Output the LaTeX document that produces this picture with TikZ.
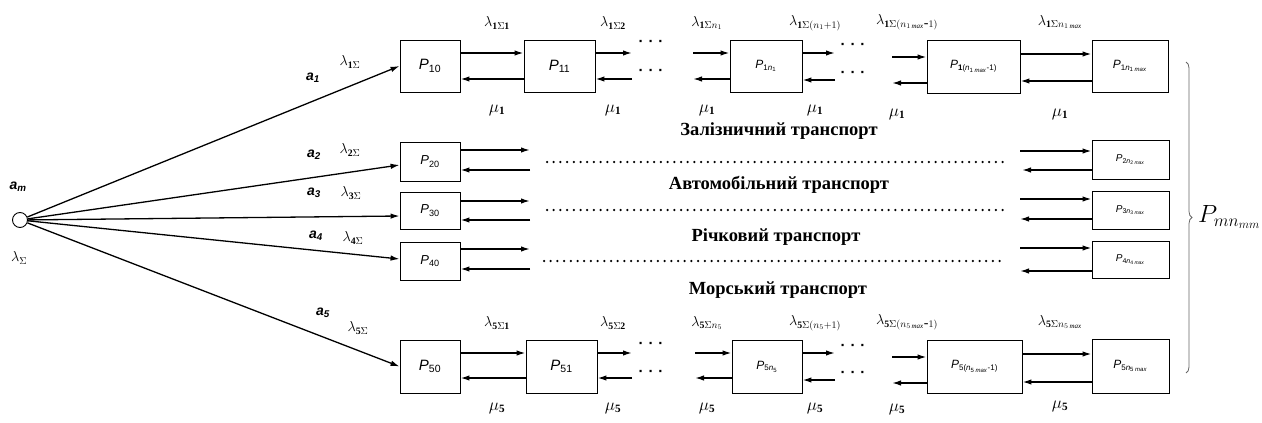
\documentclass[tikz,border=0pt]{standalone}
\usepackage{fontspec}
\setmainfont{Liberation Serif}
\setsansfont{Liberation Sans}
\usetikzlibrary{arrows.meta,decorations.pathreplacing}
\newcommand\PL[1]{\textit{P}\textsubscript{#1}}
\newcommand\tdots{·\hspace{5pt}·\hspace{5pt}·}
\begin{document}
\begin{tikzpicture}[x=1pt,y=-1pt,
  box/.style={draw,line width=0.9pt,inner sep=0pt,font=\sffamily\fontsize{15}{15}\selectfont},
  sbox/.style={box,font=\sffamily\fontsize{12}{12}\selectfont},
  arr/.style={line width=1.5pt,-{Latex[length=9pt,width=5.5pt]}},
  feed/.style={line width=1.3pt,-{Latex[length=9pt,width=5.5pt]}},
  lab/.style={inner sep=0pt,font=\fontsize{14}{14}\selectfont},
  mlab/.style={inner sep=0pt,font=\fontsize{16}{16}\selectfont},
  alab/.style={inner sep=0pt,font=\sffamily\bfseries\itshape\fontsize{14}{14}\selectfont},
  head/.style={inner sep=0pt,font=\bfseries\fontsize{18.5}{18.5}\selectfont},
  dts/.style={inner sep=0pt,font=\sffamily\bfseries\fontsize{15}{15}\selectfont},
  dline/.style={line width=2.5pt,line cap=round,dash pattern=on 0pt off 6.7pt},
]
\useasboundingbox (0,0) rectangle (1262,423);
% source
\node[draw,circle,line width=0.9pt,minimum size=15pt,inner sep=0pt] (c) at (20,220) {};
\node[alab] (am) at (18,187) {a\textsubscript{m}};
\node[lab] (ls) at (19,258) {$\lambda_{\Sigma}$};

% ---------- row 1 ----------
\node[box,minimum width=60pt,minimum height=52pt] (p10) at (430,66) {\PL{10}};
\node[box,minimum width=71pt,minimum height=52pt] (p11) at (559.5,66) {\PL{11}};
\node[sbox,minimum width=72pt,minimum height=52pt] (p1n) at (766,66) {\PL{1\textit{n}\textsubscript{1}}};
\node[sbox,minimum width=93pt,minimum height=53pt] (p1m1) at (973.5,66.5) {\PL{\textbf{1}(\textit{n}\textsubscript{1 \textit{max}}-1)}};
\node[sbox,minimum width=76pt,minimum height=52pt] (p1m) at (1130,66) {\PL{1\textit{n}\textsubscript{1 \textit{max}}}};

\coordinate (r1a) at (632,53);  \coordinate (r1b) at (632,79);
\coordinate (r1c) at (693,53);  \coordinate (r1d) at (693,79);
\coordinate (r1e) at (835,53);  \coordinate (r1f) at (835,80);
\coordinate (r1g) at (892,57);  \coordinate (r1h) at (892,83);

\draw[arr] ([yshift=13pt]p10.east) -- ([yshift=13pt]p11.west);
\draw[arr] ([yshift=-13pt]p11.west) -- ([yshift=-13pt]p10.east);
\draw[arr] ([yshift=13pt]p11.east) -- (r1a);
\draw[arr] (r1b) -- ([yshift=-13pt]p11.east);
\draw[arr] (r1c) -- ([yshift=13pt]p1n.west);
\draw[arr] ([yshift=-13pt]p1n.west) -- (r1d);
\draw[arr] ([yshift=13pt]p1n.east) -- (r1e);
\draw[arr] (r1f) -- ([yshift=-14pt]p1n.east);
\draw[arr] (r1g) -- ([yshift=9.5pt]p1m1.west);
\draw[arr] ([yshift=-16.5pt]p1m1.west) -- (r1h);
\draw[arr] ([yshift=12.5pt]p1m1.east) -- ([yshift=12pt]p1m.west);
\draw[arr] ([yshift=-15pt]p1m.west) -- ([yshift=-14.5pt]p1m1.east);

\node[dts] (d1a) at (651,43) {\tdots};
\node[dts] (d1b) at (651,72) {\tdots};
\node[dts] (d1c) at (853,46) {\tdots};
\node[dts] (d1d) at (853,74) {\tdots};

\node[lab] at (497,23) {$\lambda_{\mathbf{1}\Sigma\mathbf{1}}$};
\node[lab] at (613,23) {$\lambda_{\mathbf{1}\Sigma\mathbf{2}}$};
\node[lab] at (707,23) {$\lambda_{\mathbf{1}\Sigma n_1}$};
\node[lab] at (815,23) {$\lambda_{\mathbf{1}\Sigma(n_1+1)}$};
\node[lab] at (907,22) {$\lambda_{\mathbf{1}\Sigma(n_{1\,\mathit{max}}\mbox{-}1)}$};
\node[lab] at (1060,22) {$\lambda_{\mathbf{1}\Sigma n_{1\,\mathit{max}}}$};
\foreach \x/\y in {497/110,613/110,707/110,815/110,897/114,1060/114}
  \node[mlab] at (\x,\y) {$\mu_{\mathbf 1}$};

% ---------- rows 2-4 ----------
\node[sbox,font=\sffamily\fontsize{13}{13}\selectfont,minimum width=60pt,minimum height=39pt] (p20) at (430,161.5) {\PL{20}};
\node[sbox,font=\sffamily\fontsize{13}{13}\selectfont,minimum width=60pt,minimum height=37pt] (p30) at (430,210.5) {\PL{30}};
\node[sbox,font=\sffamily\fontsize{13}{13}\selectfont,minimum width=60pt,minimum height=38pt] (p40) at (430,261) {\PL{40}};
\node[sbox,font=\sffamily\fontsize{10}{10}\selectfont,minimum width=77pt,minimum height=39pt] (p2m) at (1130.5,159.5) {\PL{2\textit{n}\textsubscript{2 \textit{max}}}};
\node[sbox,font=\sffamily\fontsize{10}{10}\selectfont,minimum width=77pt,minimum height=38pt] (p3m) at (1130.5,210) {\PL{3\textit{n}\textsubscript{3 \textit{max}}}};
\node[sbox,font=\sffamily\fontsize{10}{10}\selectfont,minimum width=77pt,minimum height=37pt] (p4m) at (1130.5,259.5) {\PL{4\textit{n}\textsubscript{4 \textit{max}}}};

\coordinate (r2a) at (530,150); \coordinate (r2b) at (530,170);
\coordinate (r3a) at (530,201); \coordinate (r3b) at (530,220);
\coordinate (r4a) at (530,249); \coordinate (r4b) at (530,269);
\coordinate (s2a) at (1020,151); \coordinate (s2b) at (1022,170);
\coordinate (s3a) at (1020,199); \coordinate (s3b) at (1020,219);
\coordinate (s4a) at (1020,248); \coordinate (s4b) at (1020,271);

\draw[arr] ([yshift=11.5pt]p20.east) -- (r2a);
\draw[arr] (r2b) -- ([yshift=-8.5pt]p20.east);
\draw[arr] ([yshift=9.5pt]p30.east) -- (r3a);
\draw[arr] (r3b) -- ([yshift=-9.5pt]p30.east);
\draw[arr] ([yshift=12pt]p40.east) -- (r4a);
\draw[arr] (r4b) -- ([yshift=-8pt]p40.east);
\draw[arr] (s2a) -- ([yshift=8.5pt]p2m.west);
\draw[arr] ([yshift=-10.5pt]p2m.west) -- (s2b);
\draw[arr] (s3a) -- ([yshift=11pt]p3m.west);
\draw[arr] ([yshift=-9pt]p3m.west) -- (s3b);
\draw[arr] (s4a) -- ([yshift=11.5pt]p4m.west);
\draw[arr] ([yshift=-11.5pt]p4m.west) -- (s4b);

\coordinate (l2a) at (547,162); \coordinate (l2b) at (1007,162);
\coordinate (l3a) at (547,210); \coordinate (l3b) at (1007,210);
\coordinate (l4a) at (544,261); \coordinate (l4b) at (1004,261);
\draw[dline] (l2a) -- (l2b);
\draw[dline] (l3a) -- (l3b);
\draw[dline] (l4a) -- (l4b);

\node[head] (h1) at (779,131) {Залізничний транспорт};
\node[head] (h2) at (779,185) {Автомобільний транспорт};
\node[head] (h3) at (776,237) {Річковий транспорт};
\node[head] (h4) at (778,290) {Морський транспорт};

% ---------- row 5 ----------
\node[box,minimum width=60pt,minimum height=53pt] (p50) at (430,366.5) {\PL{50}};
\node[box,minimum width=71pt,minimum height=53pt] (p51) at (561.5,366.5) {\PL{51}};
\node[sbox,minimum width=70pt,minimum height=53pt] (p5n) at (767,366.5) {\PL{5\textit{n}\textsubscript{5}}};
\node[sbox,minimum width=95pt,minimum height=53pt] (p5m1) at (974.5,366.5) {\PL{5(\textit{n}\textsubscript{5 \textit{max}}-1)}};
\node[sbox,minimum width=77pt,minimum height=54pt] (p5m) at (1130.5,366) {\PL{5\textit{n}\textsubscript{5 \textit{max}}}};

\coordinate (r5a) at (632,353);  \coordinate (r5b) at (632,378);
\coordinate (r5c) at (695,353);  \coordinate (r5d) at (695,378);
\coordinate (r5e) at (835,353);  \coordinate (r5f) at (835,380);
\coordinate (r5g) at (892,357);  \coordinate (r5h) at (892,383);

\draw[arr] ([yshift=13.5pt]p50.east) -- ([yshift=13.5pt]p51.west);
\draw[arr] ([yshift=-11.5pt]p51.west) -- ([yshift=-11.5pt]p50.east);
\draw[arr] ([yshift=13.5pt]p51.east) -- (r5a);
\draw[arr] (r5b) -- ([yshift=-11.5pt]p51.east);
\draw[arr] (r5c) -- ([yshift=13.5pt]p5n.west);
\draw[arr] ([yshift=-11.5pt]p5n.west) -- (r5d);
\draw[arr] ([yshift=13.5pt]p5n.east) -- (r5e);
\draw[arr] (r5f) -- ([yshift=-13.5pt]p5n.east);
\draw[arr] (r5g) -- ([yshift=9.5pt]p5m1.west);
\draw[arr] ([yshift=-16.5pt]p5m1.west) -- (r5h);
\draw[arr] ([yshift=12.5pt]p5m1.east) -- ([yshift=12pt]p5m.west);
\draw[arr] ([yshift=-16pt]p5m.west) -- ([yshift=-15.5pt]p5m1.east);

\node[dts] (d5a) at (651,345) {\tdots};
\node[dts] (d5b) at (651,373) {\tdots};
\node[dts] (d5c) at (853,347) {\tdots};
\node[dts] (d5d) at (853,374) {\tdots};

\node[lab] at (497,323) {$\lambda_{\mathbf{5}\Sigma\mathbf{1}}$};
\node[lab] at (613,323) {$\lambda_{\mathbf{5}\Sigma\mathbf{2}}$};
\node[lab] at (707,323) {$\lambda_{\mathbf{5}\Sigma n_5}$};
\node[lab] at (815,323) {$\lambda_{\mathbf{5}\Sigma(n_5+1)}$};
\node[lab] at (907,322) {$\lambda_{\mathbf{5}\Sigma(n_{5\,\mathit{max}}\mbox{-}1)}$};
\node[lab] at (1060,322) {$\lambda_{\mathbf{5}\Sigma n_{5\,\mathit{max}}}$};
\foreach \x/\y in {497/408,613/408,707/408,815/408,897/409,1060/406}
  \node[mlab] at (\x,\y) {$\mu_{\mathbf 5}$};

% ---------- feeds from source ----------
\draw[feed] (c) -- (p10.west);
\draw[feed] (c) -- ([yshift=-3.5pt]p20.west);
\draw[feed] (c) -- ([yshift=-5.5pt]p30.west);
\draw[feed] (c) -- ([yshift=2pt]p40.west);
\draw[feed] (c) -- (p50.west);

\node[alab] at (313,78) {a\textsubscript{1}};
\node[lab] at (350,62) {$\lambda_{\mathbf{1}\Sigma}$};
\node[alab] at (314,155) {a\textsubscript{2}};
\node[lab] at (350,150) {$\lambda_{\mathbf{2}\Sigma}$};
\node[alab] at (314,193) {a\textsubscript{3}};
\node[lab] at (351,193) {$\lambda_{\mathbf{3}\Sigma}$};
\node[alab] at (316,236) {a\textsubscript{4}};
\node[lab] at (353,238) {$\lambda_{\mathbf{4}\Sigma}$};
\node[alab] at (323,313) {a\textsubscript{5}};
\node[lab] at (358,328) {$\lambda_{\mathbf{5}\Sigma}$};

% ---------- brace ----------
\coordinate (b1) at (1186,62);
\coordinate (b2) at (1186,373);
\draw[gray!80!black,line width=0.8pt,decorate,decoration={brace,amplitude=6pt}] (b1) -- (b2);
\node[inner sep=0pt,font=\fontsize{24}{24}\selectfont,anchor=west] (pm) at (1198,217) {$P_{mn_{mm}}$};
\end{tikzpicture}
\end{document}
